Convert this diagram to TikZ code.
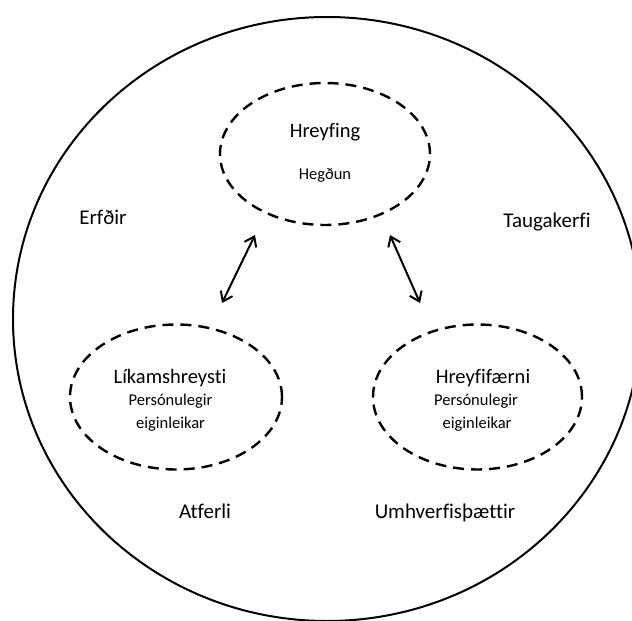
\documentclass[tikz,border=0pt]{standalone}
\usepackage{fontspec}
\setmainfont{Carlito}[Ligatures=NoCommon]
\usetikzlibrary{shapes.geometric,arrows.meta}
\tikzset{
  outer/.style={line width=2pt},
  dashell/.style={draw, ellipse, line width=2.4pt, dash pattern=on 11pt off 7pt, inner sep=0pt},
  big/.style={anchor=base, font=\fontsize{21}{25}\selectfont},
  title/.style={anchor=base, font=\fontsize{20.5}{24}\selectfont},
  sub/.style={anchor=base, font=\fontsize{16.5}{20}\selectfont},
  arr/.style={line width=2pt, {Straight Barb[length=9pt,width=13pt,line width=2pt]}-{Straight Barb[length=9pt,width=13pt,line width=2pt]}}
}
\begin{document}
\begin{tikzpicture}[x=1pt,y=-1pt]
\useasboundingbox (0,0) rectangle (632,621);
\begin{scope}
\clip (0,0) rectangle (632,621);
\draw[outer] (327,319) ellipse [x radius=314, y radius=302];
\end{scope}
% dashed ellipses
\node[dashell, minimum width=210pt, minimum height=142pt] (top) at (325,154) {};
\node[dashell, minimum width=212pt, minimum height=145pt] (left) at (176,397) {};
\node[dashell, minimum width=209pt, minimum height=145pt] (right) at (477.5,397) {};
% texts
\node[title] (t1) at (325,137) {Hreyfing};
\node[sub] (t2) at (325,179) {Hegðun};
\node[title] (l1) at (170,383) {Líkamshreysti};
\node[sub] (l2) at (170.5,405) {Persónulegir};
\node[sub] (l3) at (170.5,428) {eiginleikar};
\node[title] (r1) at (483,383) {Hreyfifærni};
\node[sub] (r2) at (476,405) {Persónulegir};
\node[sub] (r3) at (477,428) {eiginleikar};
\node[big] (erf) at (103,224) {Erfðir};
\node[big] (tau) at (547,227) {Taugakerfi};
\node[big] (atf) at (205,518) {Atferli};
\node[big] (umh) at (445,518) {Umhverfisþættir};
% arrows
\coordinate (a1) at (255,235);
\coordinate (a2) at (222,303);
\coordinate (b1) at (390,235);
\coordinate (b2) at (420,303);
\draw[arr] (a1) -- (a2);
\draw[arr] (b1) -- (b2);
\end{tikzpicture}
\end{document}
